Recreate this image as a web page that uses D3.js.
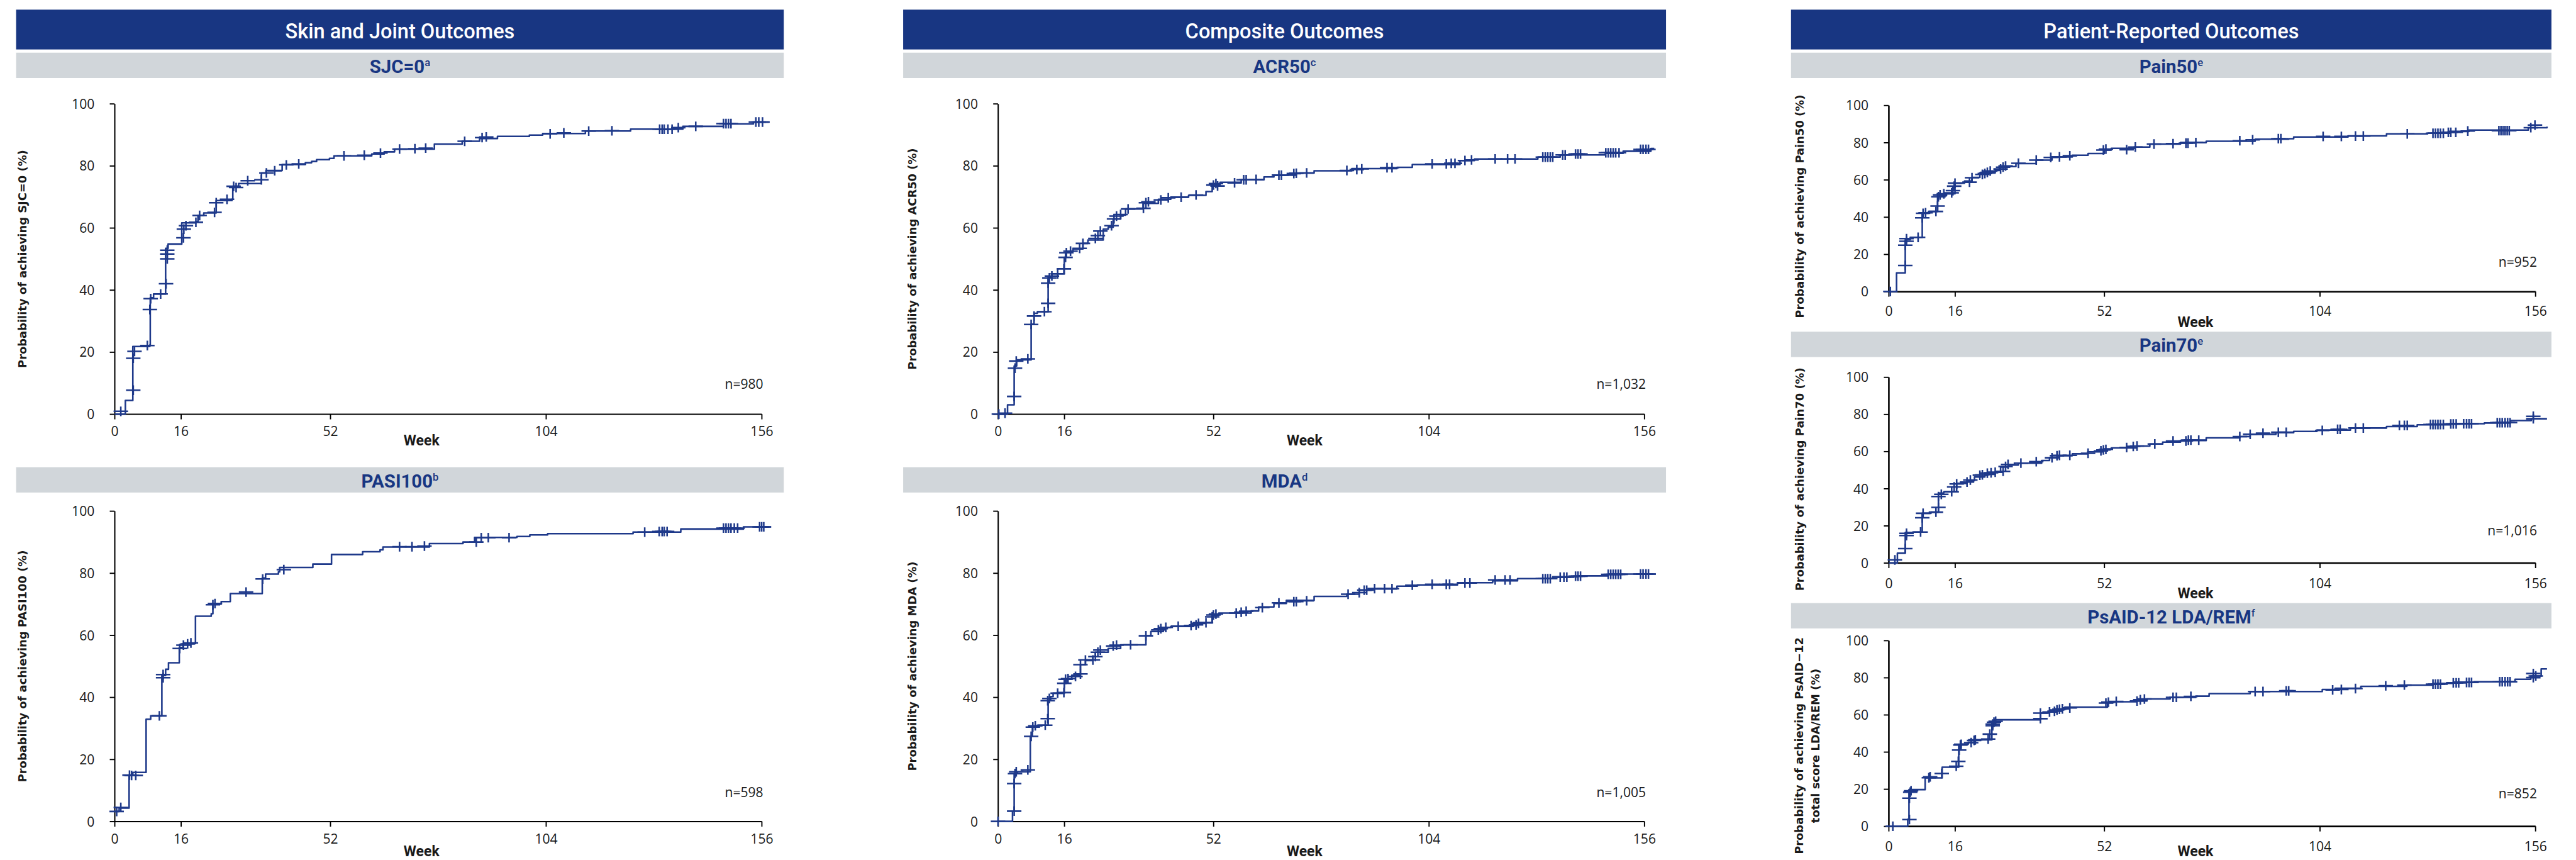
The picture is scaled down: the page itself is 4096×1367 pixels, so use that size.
<!DOCTYPE html>
<html><head><meta charset="utf-8">
<script src="https://cdn.jsdelivr.net/npm/d3@7"></script>
<style>html,body{margin:0;padding:0;background:#fff;overflow:hidden}</style>
</head><body>
<svg id="chart" width="4096" height="1367" viewBox="0 0 6409 2139"></svg>
<script>
// ---------- DATA ----------
const xTicks = [0, 16, 52, 104, 156];
const yTicks = [0, 20, 40, 60, 80, 100];
const columnHeaders = ["Skin and Joint Outcomes", "Composite Outcomes", "Patient-Reported Outcomes"];
const panelTitles = ["SJC=0", "PASI100", "ACR50", "MDA", "Pain50", "Pain70", "PsAID-12 LDA/REM"];
const panelFootnotes = ["a", "b", "c", "d", "e", "e", "f"];
const yAxisTitles = [
  ["Probability of achieving SJC=0 (%)"],
  ["Probability of achieving PASI100 (%)"],
  ["Probability of achieving ACR50 (%)"],
  ["Probability of achieving MDA (%)"],
  ["Probability of achieving Pain50 (%)"],
  ["Probability of achieving Pain70 (%)"],
  ["Probability of achieving PsAID\u221212", "total score LDA/REM (%)"]
];
const nLabels = ["n=980", "n=598", "n=1,032", "n=1,005", "n=952", "n=1,016", "n=852"];
const xAxisTitle = "Week";

// Kaplan–Meier step curves: [week, probability %]
const sjcCurve = [[0,0],[2.6,4.4],[4.4,21.8],[8.5,22.3],[8.6,37.5],[9.4,38.7],[12.3,53.4],[12.9,54.8],[16.2,61.6],[19.6,62],[20.1,64],[21.5,64.8],[24.5,68.8],[28.3,69.2],[28.5,73.4],[29.9,74.3],[35.4,77.7],[36.5,78.5],[40.4,80.4],[46,81],[47.5,81.4],[48.7,82],[51.8,82.4],[52.9,83.2],[62,83.8],[65,84.5],[67.5,85.4],[77.1,87],[83.8,87.9],[88,88.8],[92.3,89.5],[100,89.9],[103.2,90.4],[113.5,91.2],[124.4,91.8],[137,92.7],[146.8,93.5],[154,94.1],[157.7,94.1]];
const sjcCensored = [[1.5,0.9],[4.5,7.7],[4.5,18],[4.8,20.2],[7.9,22.1],[8.5,33.7],[8.7,37.2],[11.1,38.7],[12.4,42],[12.7,50],[12.7,51.6],[12.7,52.8],[16.6,56.8],[16.7,59.6],[17.2,60.7],[19.6,61.8],[20.5,64],[24.1,65],[24.5,68.1],[27.1,69.2],[28.7,73.4],[29.3,73],[32.1,75.2],[35.4,75.5],[36.6,77.7],[38.6,78.4],[41.4,80.3],[44.4,80.6],[55.3,83.2],[60.2,83.4],[64.1,84.1],[68.7,85.4],[72.4,85.5],[75,85.7],[84.4,87.9],[88.6,89.1],[89.6,89.3],[105,90.3],[108.3,90.6],[114.3,91.2],[119.9,91.3],[131.4,91.8],[132,91.8],[132.5,91.8],[133.4,91.8],[134.4,91.8],[135.9,92.3],[140.1,92.7],[146.8,93.6],[147.4,93.6],[148,93.6],[148.6,93.6],[154.6,94.1],[155.3,94.1],[156.2,94.1]];

const pasiCurve = [[0,3.2],[1.1,4.3],[3.5,14.9],[4.4,15.8],[7.6,32.9],[8.7,34],[11.4,47],[12.3,49],[13,51.1],[15.6,56],[16.5,57.3],[19.5,66.1],[23.3,66.9],[23.7,70],[25.7,70.8],[27.9,73.4],[35.6,78.4],[36.4,79.7],[39.5,80.4],[39.8,81.8],[47.8,82.9],[52.3,86],[59.8,86.9],[64,87.5],[64.7,88.4],[75.9,89.5],[84,90],[86.8,91.5],[97,91.8],[100.1,92.3],[104.4,92.7],[125,93.2],[136.5,94.2],[151.6,94.9],[158.3,94.9]];
const pasiCensored = [[0.5,3.2],[1.5,4.5],[3.6,14.9],[4.1,14.8],[5.1,14.8],[10.8,34],[11.7,47.3],[11.7,46.3],[15.7,55.7],[16.6,56.8],[17.6,57.2],[18.4,57.5],[23.7,69.8],[24.2,70.2],[31.7,73.9],[35.7,78.1],[40.8,81.1],[68.7,88.5],[71.7,88.5],[74.7,88.7],[87.2,90],[88.4,91.4],[90.1,91.4],[95.1,91.4],[127.8,93.2],[131.3,93.4],[132,93.4],[132.5,93.4],[133.2,93.4],[146.8,94.5],[147.4,94.5],[148,94.5],[148.6,94.5],[149.4,94.5],[150.2,94.5],[155.5,94.9],[156,94.9],[156.5,94.9]];

const acrCurve = [[0,0],[2.3,3],[3.9,15.5],[4.5,17.5],[8,29],[8.7,32.5],[9.5,33],[12.1,44.3],[13,45.2],[16,50.5],[16.5,52.3],[18.1,53.2],[20.5,55],[21.7,56.1],[25.4,59.6],[26.6,60.2],[27.8,62.9],[29.6,64.1],[30.8,66.1],[35,67.9],[38.7,69.2],[41.7,69.9],[46,70.5],[50.2,71.7],[51.7,73.8],[53.6,74.7],[58.7,75.5],[64.2,76.4],[66.6,77],[72,77.7],[76.3,78.4],[85.4,79.1],[96.3,79.5],[100,80.4],[111.5,81.7],[115,82.2],[130.3,82.8],[135.7,83.5],[146.6,84],[150.9,84.7],[157.6,85.6],[158.4,85.6]];
const acrCensored = [[0.2,0],[1.7,0.3],[3.9,5.7],[4.1,14.8],[4.4,17.1],[7.2,17.8],[8,28.9],[8.7,31.6],[11.2,33],[12.1,35.7],[12.1,42.2],[12.4,43.9],[13,44.5],[14.4,45.2],[15.9,46.8],[16.3,50.5],[16.5,52],[17.5,52.5],[19.7,53.4],[20.5,55],[23.5,56.6],[24.1,57.5],[24.7,59],[27.4,60.7],[28,62.9],[28.6,63.8],[29.6,64.3],[31.4,66.1],[35.1,66.3],[35.7,68.1],[36.3,68.4],[39.3,69],[41.1,69.7],[44.2,69.9],[47.8,70.6],[52,73.8],[52.6,74.3],[53,73.5],[57.1,74.5],[59.3,75.5],[59.9,75.5],[62.3,75.6],[67.8,77],[68.4,77],[71.4,77.5],[72,77.6],[74.5,77.7],[84.2,78.5],[86.6,78.8],[87.8,79],[93.9,79.4],[95.1,79.4],[104.8,80.6],[108.2,80.6],[109.4,80.8],[110.3,80.8],[112.7,81.7],[114.3,81.9],[120,82.2],[123,82.2],[124.8,82.2],[131.5,82.8],[132.1,82.8],[132.7,82.8],[133.3,82.8],[133.9,82.8],[136.3,83.5],[136.9,83.5],[139.4,83.8],[140,83.8],[140.6,83.8],[146.7,84.2],[147.3,84.2],[147.9,84.2],[148.5,84.2],[149.1,84.2],[149.9,84.2],[155.1,85.3],[155.7,85.3],[156.4,85.3],[157,85.3]];

const mdaCurve = [[0,0],[3.5,3.3],[3.9,15.4],[4.7,16],[7.8,27.4],[8.3,30.4],[9.5,31],[12.1,38.9],[12.7,40.2],[13.3,41.3],[16,44.5],[16.5,45.8],[17.8,47.1],[19.9,50.5],[21.1,51.8],[22.9,53.1],[23.5,54.5],[26.6,55.7],[29.6,56.9],[35.7,59.8],[36.9,61.2],[39.9,62.5],[41.7,62.8],[47.2,64],[51.7,66.4],[53.3,67.1],[61.1,67.8],[62.9,69.1],[66.6,70.2],[69.6,71.2],[76.3,72.5],[84.2,73.2],[87.2,74.5],[90.2,74.9],[96.3,75.8],[101.2,76.2],[110.9,76.9],[119.4,77.5],[125.4,78.2],[133.9,78.8],[140,79.1],[147.3,79.7],[158.8,79.7]];
const mdaCensored = [[0,0],[3.9,3.3],[3.9,12.2],[4.1,15.4],[4.4,16],[7.2,16.6],[8,27.4],[8.4,30.4],[9,30.8],[11.4,31],[12,33.1],[12,38.9],[12.4,39.6],[14.4,41.3],[15.9,41.5],[16,44.5],[16.3,45.8],[16.9,46],[18.7,46.7],[19.9,47.5],[19.9,50.5],[21.1,52],[22.9,52],[23.5,53.1],[24.1,54.5],[24.7,55.2],[27.8,56.5],[28.6,56.8],[32,56.9],[35.7,59.8],[38.7,61.7],[39.3,62.1],[40.5,62.5],[43.5,62.9],[46.6,63.1],[47.8,63.3],[48.4,63.8],[50.2,64],[51.7,65.9],[52,66.5],[52.6,66.8],[57.5,67.1],[58.7,67.4],[59.9,67.7],[63.8,68.9],[67.8,70.4],[71.4,70.8],[72,70.8],[74.5,71.1],[84.5,73.2],[87.2,73.7],[88.4,74.5],[89,74.5],[90.9,75],[93.3,75],[95.1,75],[100,76.1],[104.8,76.4],[108.2,76.4],[109,76.4],[112.7,76.8],[113.9,76.8],[120,77.8],[122.4,77.8],[123.6,77.8],[131.5,78.2],[132.1,78.2],[132.7,78.2],[133.3,78.2],[135.7,78.7],[136.6,78.7],[137.3,78.7],[139.4,79],[140,79],[140.6,79],[147.3,79.6],[147.9,79.6],[148.5,79.6],[149.1,79.6],[149.7,79.6],[150.3,79.6],[155.1,79.7],[155.7,79.7],[156.4,79.7],[157,79.7]];

const pain50Curve = [[0,0],[1.9,10],[4,27.8],[5.2,29.1],[8.1,42],[9.6,43],[11.8,51.4],[13.9,52.5],[16,58.2],[18.3,59.3],[20.1,61.3],[22,63.7],[25.7,65],[26.7,67.1],[30.7,68.7],[35.6,70.6],[39.4,72.3],[44.3,73.2],[48.1,74.1],[52,76],[53.7,76.9],[59.2,77.6],[63,79.2],[70.4,80],[76.6,80.7],[88.4,81.8],[96.5,82.1],[97.7,83],[110.8,83.6],[120.1,84.7],[130,85],[135,86],[140,86.7],[154.3,88],[158.8,88.6]];
const pain50Censored = [[0.4,0],[4,14],[4,24.9],[4.3,27],[4.3,28.4],[7.1,29.1],[8.1,39.6],[8.3,42],[8.9,42.3],[11.4,43],[11.8,45.9],[12,50.9],[12.4,51.9],[13.3,52.5],[15.2,53],[15.5,54.2],[15.8,56.6],[16,58.2],[19.5,58.7],[20.1,61.1],[22.6,62.9],[23.2,63.4],[23.8,64],[24.5,64.7],[27,65.8],[27.6,66.8],[28.2,67.4],[31.3,68.9],[35.6,70.6],[39.1,72],[41.2,72.3],[43.7,72.9],[51.8,76],[52.4,76.5],[57.4,76.2],[59.5,77.6],[64,79.2],[68.6,79.4],[71.7,79.7],[72.2,79.7],[74.1,80],[84.7,81],[87.8,81.5],[94,82.1],[94.6,82.1],[104.8,83.3],[109.2,83.3],[112.6,83.5],[114.5,83.5],[125.1,84.7],[131.3,85],[131.9,85],[132.5,85],[133.1,85],[133.8,85],[135,85.5],[135.6,85.5],[136.8,85.5],[139.7,86.2],[147.2,86.4],[147.7,86.4],[148.2,86.4],[148.7,86.4],[149.2,86.4],[149.7,86.4],[154.9,88],[155.9,89.4]];

const pain70Curve = [[0,0],[2.1,5.2],[4,16.3],[5.8,16.6],[8.1,26.7],[10.2,27.3],[12,37.6],[13.3,38.3],[16.4,42.8],[18.9,44.3],[20.7,46.2],[23.2,47.7],[25.7,48.8],[27,51.6],[28.9,52.7],[31.3,53.7],[36.9,55.1],[38.8,56.6],[40.7,57.7],[44.3,58.7],[48,59.8],[51.8,61.4],[53.7,61.9],[59.9,62.9],[63,64],[66.1,65],[70.4,65.9],[76.6,67.3],[84.7,68],[87.2,69.2],[93.4,70.1],[97.7,70.8],[103.3,71.5],[111.4,72.6],[120.1,73.4],[127.5,74.3],[135.4,74.9],[143.7,75.3],[150,76.6],[155,77.6],[158.8,77.6]];
const pain70Censored = [[1.5,1.6],[4,7.7],[4.3,14.7],[4.3,15.9],[7.7,16.6],[8.1,24.3],[8.3,26.7],[11.4,27.3],[12,29.9],[12,35.7],[12.7,36.9],[15.2,38.3],[15.8,40.9],[16.4,42.5],[18.9,43.5],[19.7,44.6],[22,47.2],[22.6,47.4],[23.8,48.3],[24.7,48.5],[25.7,48.8],[27.6,49.3],[28.2,51.9],[28.8,53],[31.9,53.7],[35.6,54.5],[39.4,56.6],[40.6,57.7],[41.2,57.9],[43.7,57.9],[48.1,59],[51.2,60.3],[51.8,60.8],[52.4,61.1],[57.4,62.1],[59,62.7],[59.9,62.9],[64.2,64],[68.6,65.6],[71.7,65.6],[72.3,66.1],[72.9,66.1],[74.8,66.1],[84.7,68],[87.2,69.2],[90.3,69.8],[94,70.3],[95.9,70.3],[104.6,71.3],[108.3,71.9],[108.9,71.9],[112.6,72.6],[114.5,72.6],[123.2,74],[124.4,74],[125.1,74],[130.7,74.5],[131.3,74.5],[131.9,74.5],[132.5,74.5],[133.1,74.5],[133.8,74.5],[135.6,74.8],[136.2,74.8],[136.9,74.8],[138.7,74.9],[139.4,74.9],[140,74.9],[140.6,74.9],[146.8,75.5],[147.4,75.5],[148,75.5],[148.7,75.5],[149.3,75.5],[149.9,75.5],[155.5,77.6],[155.5,78.9]];

const psaidCurve = [[0,0],[4.6,3.7],[4.9,19.7],[8.8,26],[12.9,31.8],[16.9,43.7],[17.6,44.2],[19.2,45.2],[20.9,46.5],[24.9,55.8],[25.5,57.3],[36.6,60.9],[38.7,61.9],[40,62.8],[42.5,64.1],[52.8,66.5],[54.3,67],[59.9,67.4],[62.3,68.5],[67.9,69.4],[74.1,70],[77.3,71.4],[87.2,72.5],[104.6,73.6],[107.7,74.3],[113.9,75.3],[125,76],[131.3,76.9],[136.2,77.6],[141.2,77.8],[151.1,79.1],[154.9,80.9],[157.4,84.7],[158.8,84.7]];
const psaidCensored = [[1,0],[5,3.6],[5,15.1],[5.2,18.3],[5.4,19.1],[9.7,26.1],[10,26.6],[12.8,28.4],[16.3,32.3],[16.8,34.9],[17,41],[17.3,43.7],[17.5,44.1],[19.9,45],[20.6,46.2],[20.9,46.5],[24,46.9],[24.4,49.6],[25.1,54.1],[25.1,55],[25.4,56],[25.8,56.5],[36.6,57.9],[36.6,60.9],[38.8,61.5],[40,61.9],[40.6,62.6],[41.2,63],[41.9,63.2],[43.7,63.7],[52.4,66.3],[53,66.8],[54.9,67.2],[59.9,67.4],[60.7,68.1],[61.7,68.5],[68.6,69.4],[69.4,69.4],[72.9,69.9],[88.4,72.5],[90.3,72.5],[95.9,72.9],[96.5,72.9],[107.1,73.4],[109.2,73.6],[112.6,74.1],[119.9,75.6],[124.4,76],[131.3,76.5],[131.9,76.5],[132.5,76.5],[133.1,76.5],[136.2,77.2],[136.9,77.2],[137.5,77.2],[139.4,77.4],[140,77.4],[140.6,77.4],[147.4,77.8],[148,77.8],[148.7,77.8],[149.3,77.8],[149.9,77.8],[155.5,80],[155.5,82.2],[156.1,80.9]];

const curves = [sjcCurve, pasiCurve, acrCurve, mdaCurve, pain50Curve, pain70Curve, psaidCurve];
const censored = [sjcCensored, pasiCensored, acrCensored, mdaCensored, pain50Censored, pain70Censored, psaidCensored];

// ---------- LAYOUT (reference pixel units) ----------
const navy = "#183682", gray = "#d1d6da", lineCol = "#1e398a", ink = "#1a1a1a";
const columns = [{x: 40, w: 1910}, {x: 2247, w: 1898}, {x: 4456, w: 1892}];
const headerBar = {y: 24, h: 99};
const panels = [
  {col:0, bar:131, x0:285,  x1:1895, yT:258,  yB:1030, tick:42, week:1095, n:955,  lx:56,   lOff:0},
  {col:0, bar:1162,x0:285,  x1:1895, yT:1271, yB:2043, tick:44, week:2117, n:1971, lx:56,   lOff:0},
  {col:1, bar:131, x0:2483, x1:4091, yT:258,  yB:1030, tick:42, week:1095, n:955,  lx:2269, lOff:0},
  {col:1, bar:1162,x0:2483, x1:4091, yT:1271, yB:2043, tick:44, week:2117, n:1971, lx:2269, lOff:0},
  {col:2, bar:131, x0:4699, x1:6308, yT:262,  yB:725,  tick:49, week:801,  n:652,  lx:4477, lOff:20},
  {col:2, bar:825, x0:4699, x1:6308, yT:938,  yB:1400, tick:51, week:1475, n:1320, lx:4477, lOff:23},
  {col:2, bar:1500,x0:4699, x1:6308, yT:1593, yB:2055, tick:50, week:2117, n:1973, lx:4476, lOff:31}
];

const svg = d3.select("#chart");
svg.append("rect").attr("width", 6409).attr("height", 2139).attr("fill", "#fff");

// column headers
columns.forEach((c, i) => {
  svg.append("rect").attr("x", c.x).attr("y", headerBar.y).attr("width", c.w).attr("height", headerBar.h).attr("fill", navy);
  svg.append("text").attr("x", c.x + c.w / 2).attr("y", 95).attr("text-anchor", "middle")
    .attr("font-family", "Roboto, 'Noto Sans', sans-serif").attr("font-weight", 500).attr("font-size", 51)
    .attr("fill", "#fff").text(columnHeaders[i]);
});

panels.forEach((p, i) => {
  const c = columns[p.col];
  // sub header bar
  svg.append("rect").attr("x", c.x).attr("y", p.bar).attr("width", c.w).attr("height", 63).attr("fill", gray);
  const t = svg.append("text").attr("x", c.x + c.w / 2).attr("y", p.bar + 50).attr("text-anchor", "middle")
    .attr("font-family", "Roboto, 'Noto Sans', sans-serif").attr("font-weight", 700).attr("font-size", 46).attr("fill", navy);
  t.append("tspan").text(panelTitles[i]);
  t.append("tspan").attr("dy", -17).attr("font-size", 26).attr("font-weight", 500).text(panelFootnotes[i]);

  const x = d3.scaleLinear().domain([0, 156]).range([p.x0, p.x1]);
  const y = d3.scaleLinear().domain([0, 100]).range([p.yB, p.yT]);
  const g = svg.append("g");

  // axes
  const ax = g.append("g").attr("transform", `translate(${p.x0},0)`)
    .call(d3.axisLeft(y).tickValues(yTicks).tickSize(12).tickSizeOuter(0));
  const bx = g.append("g").attr("transform", `translate(0,${p.yB})`)
    .call(d3.axisBottom(x).tickValues(xTicks).tickSize(13).tickSizeOuter(0));
  [ax, bx].forEach(a => {
    a.select(".domain").attr("stroke", "#000").attr("stroke-width", p.col === 2 ? 4 : 3.2);
    a.selectAll(".tick line").attr("stroke", "#000").attr("stroke-width", 3);
    a.selectAll(".tick text").attr("font-family", "'Open Sans', sans-serif").attr("font-size", 33)
      .attr("fill", ink).attr("font-weight", 400);
  });
  ax.selectAll(".tick text").attr("x", -50).attr("dy", "0.36em");
  bx.selectAll(".tick text").attr("y", p.tick).attr("dy", "0.36em");

  // curve
  const line = d3.line().x(d => x(d[0])).y(d => y(d[1])).curve(d3.curveStepAfter);
  g.append("path").datum(curves[i]).attr("d", line).attr("fill", "none")
    .attr("stroke", lineCol).attr("stroke-width", 4).attr("stroke-linejoin", "round");

  // censor marks
  g.append("g").selectAll("path").data(censored[i]).join("path")
    .attr("d", d => { const cx = x(d[0]), cy = y(d[1]); return `M${cx - 18},${cy}H${cx + 18}M${cx},${cy - 12}V${cy + 12}`; })
    .attr("stroke", lineCol).attr("stroke-width", 4).attr("fill", "none");

  // y axis title
  const cy = (p.yT + p.yB) / 2 + p.lOff;
  const lines = yAxisTitles[i];
  lines.forEach((s, k) => {
    const lx = p.lx + (k - (lines.length - 1) / 2) * 41 + (lines.length > 1 ? 20 : 0);
    svg.append("text").attr("transform", `translate(${lx},${cy}) rotate(-90)`)
      .attr("text-anchor", "middle").attr("dy", "0.36em")
      .attr("font-family", "'DejaVu Sans', sans-serif").attr("font-weight", 700).attr("font-size", 28)
      .attr("fill", ink).text(s);
  });

  // x axis title
  svg.append("text").attr("x", x(74)).attr("y", p.week).attr("dy", "0.36em").attr("text-anchor", "middle")
    .attr("font-family", "Roboto, sans-serif").attr("font-weight", 700).attr("font-size", 36)
    .attr("fill", ink).text(xAxisTitle);

  // n label
  svg.append("text").attr("x", p.x1 + 4).attr("y", p.n).attr("dy", "0.36em").attr("text-anchor", "end")
    .attr("font-family", "'Open Sans', sans-serif").attr("font-size", 33).attr("fill", ink).text(nLabels[i]);
});
</script>
</body></html>
